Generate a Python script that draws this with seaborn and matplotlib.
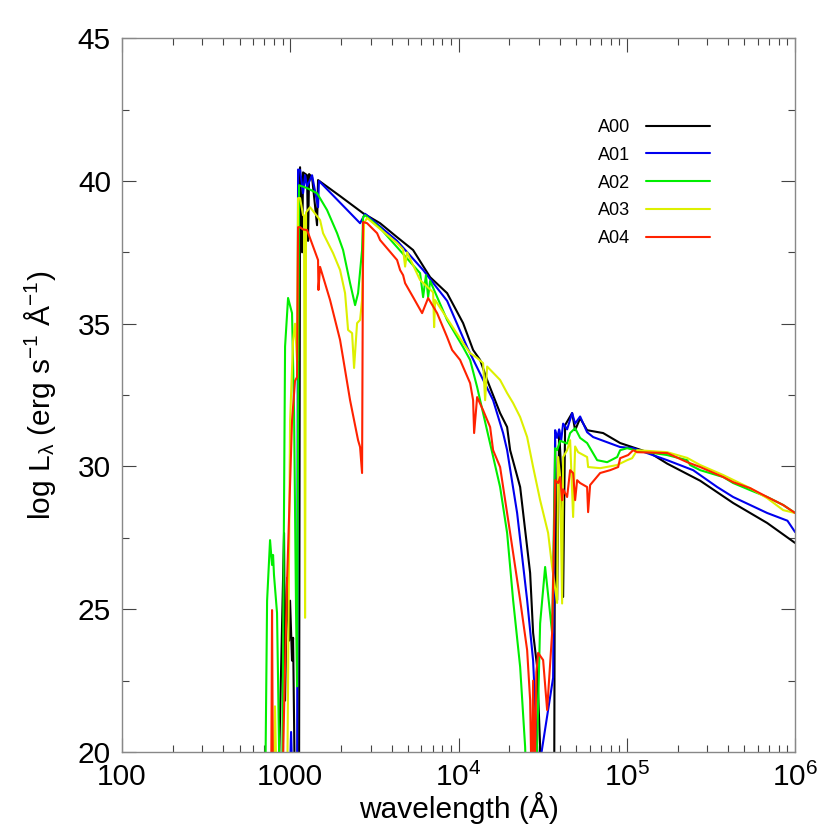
import pandas as pd
import matplotlib
matplotlib.use("Agg")
import matplotlib.pyplot as plt
import matplotlib.ticker as mticker
import seaborn as sns

# Spectra (wavelength in Angstrom, log L_lambda)
a00_wl = [846, 918, 931, 957, 984, 997, 1024, 1039, 1053, 1067,
          1127, 1143, 1175, 1191, 1258, 1275, 1293, 1347, 1442, 1462,
          1976, 2707, 3416, 4311, 5367, 6775, 8548, 10640, 12200, 13430,
          14780, 17650, 19430, 20250, 23220, 26620, 27730, 29300, 30520, 30940,
          36970, 37480, 38520, 39590, 40690, 41810, 42970, 47290, 49270, 52760,
          58050, 72280, 91230, 137500, 173600, 272700, 428300, 682200, 1000000]
a00_logl = [18, 27.67, 21.8, 26.1, 23.9, 25.3, 23.2, 24.0, 21.1, 18,
            18, 40.48, 37.5, 40.3, 40.2, 37.9, 40.24, 40.13, 38.45, 40.03,
            39.47, 38.87, 38.52, 38.03, 37.58, 36.63, 36.07, 35.02, 34.08, 33.73,
            33.03, 31.87, 31.38, 30.57, 29.28, 26.27, 24.17, 22.98, 20.2, 18,
            18, 30.92, 25.32, 31.27, 29.87, 25.43, 31.45, 31.87, 31.27, 31.69,
            31.27, 31.17, 30.82, 30.47, 30.1, 29.5, 28.72, 28.02, 27.32]

a01_wl = [984, 1011, 1039, 1097, 1112, 1143, 1191, 1224, 1258, 1347,
          1462, 1480, 2598, 2782, 4311, 6155, 8548, 11240, 16040, 18390,
          19430, 22280, 25550, 27730, 29300, 30200, 36460, 37480, 38520, 39590,
          40690, 41810, 44160, 47290, 49270, 52760, 58050, 63030, 91230, 109000,
          173600, 247700, 344200, 428300, 540600, 682200, 900000, 1000000]
a01_logl = [18, 20.7, 18, 18, 40.4, 40.38, 39.57, 40.2, 39.8, 40.2,
            39.08, 40.0, 38.52, 38.85, 37.9, 36.88, 35.8, 34.18, 32.32, 31.17,
            30.57, 28.37, 25.32, 23.2, 20.07, 19.5, 22.6, 31.27, 31.0, 31.3,
            30.9, 31.5, 31.3, 31.87, 31.5, 31.75, 31.2, 31.03, 30.68, 30.64,
            30.22, 29.87, 29.28, 28.93, 28.65, 28.37, 28.1, 27.7]

a02_wl = [708, 728, 758, 779, 790, 800, 834, 846, 857, 869,
          893, 931, 970, 1024, 1053, 1082, 1097, 1127, 1258, 1442,
          1654, 1897, 2059, 2266, 2427, 2528, 2670, 2707, 2782, 3416, 4311,
          5905, 6155, 6400, 6593, 6775, 8548, 10640, 11710, 12890, 13430,
          15400, 17650, 19430, 21090, 23220, 24860, 25500, 28800, 29300, 30520,
          32680, 34050, 35970, 37480, 38520, 40130, 44160, 46010, 49270, 52760,
          58050, 66590, 76350, 87570, 91230, 100400, 115100, 173600, 228300, 237800,
          272700, 373600, 428300, 540600, 682200, 849200, 1000000]
a02_logl = [18, 25.3, 27.42, 26.55, 26.9, 26.2, 24.87, 22.5, 20.2, 18,
            18, 34.2, 35.9, 35.37, 31.9, 24.9, 22.3, 39.85, 39.75, 39.57,
            38.98, 38.17, 37.58, 36.42, 35.65, 36.07, 37.58, 38.73, 38.8, 38.35, 37.68,
            36.77, 35.93, 36.7, 35.93, 36.5, 35.13, 34.18, 33.73, 32.78, 32.32,
            30.8, 29.28, 27.67, 25.32, 22.98, 20.18, 18, 18, 20.2, 24.5,
            26.48, 25.5, 24.17, 30.64, 30.57, 30.9, 30.8, 31.17, 31.34, 31.0,
            30.82, 30.22, 30.15, 30.33, 30.57, 30.64, 30.55, 30.4, 30.22, 30.05,
            29.87, 29.63, 29.42, 29.17, 28.93, 28.65, 28.37]

a03_wl = [790, 811, 834, 957, 997, 1039, 1067, 1097, 1112, 1143,
          1191, 1207, 1224, 1241, 1311, 1503, 1566, 1796, 1976, 2116,
          2205, 2329, 2393, 2494, 2598, 2670, 2744, 2859, 4311, 4681,
          4811, 4943, 5905, 7059, 7156, 7255, 10640, 11710, 12890, 13990,
          14380, 14780, 17650, 19430, 21090, 23220, 25550, 27730, 30520, 34050,
          35970, 38520, 39050, 40130, 41240, 41810, 44160, 46010, 47940, 49270,
          51330, 58050, 58850, 69380, 87570, 100400, 107500, 115100, 173600, 228300,
          272700, 373600, 540600, 682200, 849200, 1000000]
a03_logl = [18, 21.6, 18, 18, 31.6, 34.4, 35.0, 33.7, 39.4, 39.4,
            38.8, 38.8, 24.7, 38.9, 39.08, 38.63, 38.17, 37.47, 36.88, 36.07,
            34.78, 34.67, 33.45, 35.02, 35.13, 35.83, 38.52, 38.7, 37.82, 37.6,
            37.0, 37.5, 36.53, 36.1, 34.88, 35.83, 34.32, 33.97, 33.8, 33.62,
            32.32, 33.5, 33.03, 32.57, 32.22, 31.73, 31.03, 29.98, 28.82, 27.67,
            26.48, 25.22, 30.33, 29.63, 25.2, 30.33, 30.57, 30.92, 28.23, 30.7,
            30.5, 30.33, 29.98, 29.94, 30.05, 30.22, 30.29, 30.57, 30.5, 30.3,
            30.05, 29.7, 29.24, 28.89, 28.47, 28.37]

a04_wl = [769, 779, 790, 893, 918, 957, 1024, 1067, 1097, 1112,
          1143, 1191, 1258, 1462, 1470, 1503, 1723, 1976, 2059, 2266,
          2528, 2598, 2670, 2707, 2859, 3279, 3416, 4311, 4492, 4681,
          4811, 5367, 6071, 6593, 7456, 8548, 9153, 10210, 11710, 12200,
          12370, 12890, 13990, 15400, 16040, 17650, 20250, 23220, 25550, 26620,
          27200, 27730, 28300, 29000, 29700, 31800, 33590, 35970, 37480, 39050,
          40130, 41240, 41810, 44160, 46010, 47940, 49270, 50630, 52760, 58050,
          58850, 60490, 69380, 79560, 88770, 91230, 101800, 109000, 115100, 173600,
          228300, 272700, 373600, 428300, 540600, 682200, 849200, 1000000]
a04_logl = [18, 24.97, 18, 18, 21.4, 26.0, 31.6, 33.0, 33.13, 38.38,
            38.38, 38.3, 38.28, 37.23, 36.18, 36.99, 35.83, 34.43, 33.8, 32.32,
            30.92, 30.68, 29.77, 38.56, 38.52, 38.17, 37.93, 37.23, 36.88, 36.7,
            36.42, 35.93, 35.37, 35.9, 35.37, 34.53, 34.08, 33.73, 32.92, 32.32,
            31.17, 32.43, 31.97, 31.38, 30.57, 29.98, 27.67, 25.32, 23.57, 21.82,
            18.5, 22.5, 19.0, 22.8, 23.47, 23.22, 21.47, 24.17, 29.52, 29.42,
            29.63, 28.82, 29.2, 28.93, 29.87, 29.77, 28.82, 29.52, 29.42, 29.28,
            28.4, 29.35, 29.77, 29.87, 29.98, 30.29, 30.4, 30.57, 30.5, 30.47,
            30.15, 29.98, 29.63, 29.45, 29.24, 28.93, 28.65, 28.37]

models = ["A00", "A01", "A02", "A03", "A04"]
colors = ["#000000", "#0000ee", "#00ee00", "#ddf000", "#ff2200"]

series = [a00_wl, a01_wl, a02_wl, a03_wl, a04_wl]
values = [a00_logl, a01_logl, a02_logl, a03_logl, a04_logl]
df = pd.concat(
    [pd.DataFrame({"wavelength": w, "logL": v, "model": m})
     for m, w, v in zip(models, series, values)],
    ignore_index=True)

sns.set_theme(style="white")
plt.rcParams["font.family"] = ["Liberation Sans", "DejaVu Sans"]
plt.rcParams["mathtext.fontset"] = "custom"
plt.rcParams["mathtext.rm"] = "Liberation Sans"
plt.rcParams["mathtext.it"] = "Liberation Sans"
plt.rcParams["text.color"] = "black"
plt.rcParams["axes.labelcolor"] = "black"
plt.rcParams["xtick.color"] = "black"
plt.rcParams["ytick.color"] = "black"

fig, ax = plt.subplots(figsize=(8.3, 8.3), dpi=100)
fig.subplots_adjust(left=0.147, right=0.958, bottom=0.094, top=0.954)
ax.set_xscale("log")

sns.lineplot(data=df, x="wavelength", y="logL", hue="model",
             palette=dict(zip(models, colors)), estimator=None, sort=False,
             linewidth=1.5, ax=ax)

ax.set_xlim(100, 1e6)
ax.set_ylim(20, 45)
ax.set_xticks([100, 1000, 1e4, 1e5, 1e6])
ax.set_xticklabels(["100", "1000", "10$^4$", "10$^5$", "10$^6$"])
ax.xaxis.set_minor_locator(mticker.LogLocator(base=10, subs=range(2, 10)))
ax.xaxis.set_minor_formatter(mticker.NullFormatter())
ax.yaxis.set_major_locator(mticker.MultipleLocator(5))
ax.yaxis.set_minor_locator(mticker.MultipleLocator(2.5))

ax.tick_params(which="both", direction="in", bottom=True, left=True,
               top=True, right=True, color="#444444", labelsize=21.5)
ax.tick_params(which="major", length=10, width=0.8, pad=8)
ax.tick_params(which="minor", length=5, width=0.8)
for sp in ax.spines.values():
    sp.set_color("#888888")
    sp.set_linewidth(1.0)

ax.set_xlabel("wavelength (Å)", fontsize=21.5, labelpad=0)
ax.set_ylabel("log L$_{λ}$ (erg s$^{-1}$ Å$^{-1}$)", fontsize=21.5, labelpad=14)

sns.move_legend(ax, "upper left", bbox_to_anchor=(0.707, 0.887),
                frameon=False, title=None, markerfirst=False,
                handlelength=3.5, handletextpad=0.9, labelspacing=0.6,
                fontsize=13, borderaxespad=0, borderpad=0)

fig.savefig("out.png", dpi=100)
